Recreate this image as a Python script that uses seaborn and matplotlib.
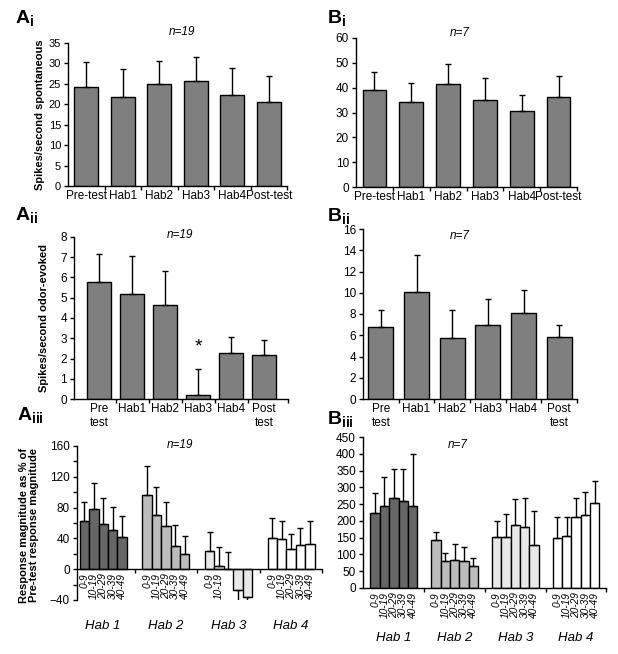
import numpy as np
import pandas as pd
import matplotlib
matplotlib.use("Agg")
import matplotlib.pyplot as plt
import seaborn as sns
from matplotlib import transforms
from matplotlib.ticker import MultipleLocator, FixedLocator

# ---- data ----
phase_labels = ["Pre-test", "Hab1", "Hab2", "Hab3", "Hab4", "Post-test"]
phase_labels2 = ["Pre\ntest", "Hab1", "Hab2", "Hab3", "Hab4", "Post\ntest"]

ai_mean = [24.2, 21.7, 24.9, 25.8, 22.2, 20.5]
ai_sem = [6.1, 6.9, 5.8, 5.8, 6.7, 6.4]

bi_mean = [39.1, 34.2, 41.5, 35.0, 30.6, 36.2]
bi_sem = [7.2, 7.7, 8.0, 8.9, 6.4, 8.5]

aii_mean = [5.77, 5.17, 4.63, 0.21, 2.28, 2.17]
aii_sem = [1.39, 1.89, 1.68, 1.28, 0.76, 0.72]

bii_mean = [6.81, 10.06, 5.78, 6.97, 8.06, 5.84]
bii_sem = [1.59, 3.50, 2.62, 2.47, 2.19, 1.13]

habs = ["Hab 1", "Hab 2", "Hab 3", "Hab 4"]
bins = ["0-9", "10-19", "20-29", "30-39", "40-49"]
aiii_bins = [bins, bins, ["0-9", "10-19", "", "", ""], bins]

aiii_mean = [[63.2, 77.6, 59.0, 51.5, 41.2],
             [96.6, 70.7, 56.4, 30.6, 20.2],
             [24.1, 4.7, 0.0, -27.5, -36.6],
             [40.9, 38.7, 26.7, 31.8, 33.2]]
aiii_sem = [[24.6, 34.9, 33.7, 29.6, 28.0],
            [37.8, 36.0, 31.4, 27.2, 23.0],
            [24.1, 24.5, 22.8, 23.3, 24.4],
            [25.8, 24.1, 18.9, 22.0, 29.1]]

biii_mean = [[225, 243, 267, 258, 243],
             [143, 79, 83, 80, 65],
             [153, 153, 187, 183, 127.5],
             [148, 154, 212, 219, 252]]
biii_sem = [[57, 89, 89, 98, 157],
            [23, 25, 47, 41, 25],
            [47, 69, 78, 84, 103],
            [64, 58, 55, 67, 68]]

hab_colors = ["#666666", "#bcbcbc", "#e8e8e8", "#ffffff"]
GREY = "#7f7f7f"

sns.set_style("ticks")
plt.rcParams["font.family"] = ["Liberation Sans", "DejaVu Sans"]
plt.rcParams.update({
    "mathtext.fontset": "custom",
    "mathtext.rm": "Liberation Sans",
    "mathtext.it": "Liberation Sans:italic",
    "mathtext.bf": "Liberation Sans:bold",
    "axes.edgecolor": "black",
    "axes.linewidth": 1,
    "xtick.color": "black",
    "ytick.color": "black",
    "text.color": "black",
})

W, H = 618, 654
fig = plt.figure(figsize=(W / 100, H / 100), dpi=100)


def box(l, t, r, b):
    return [l / W, 1 - b / H, (r - l) / W, (b - t) / H]


def ftext(x, y, s, **kw):
    fig.text(x / W, 1 - y / H, s, **kw)


def bar_panel(ax, labels, means, sems, ymax, ystep, width, xlim):
    sns.barplot(x=labels, y=means, color=GREY, saturation=1, edgecolor="black",
                linewidth=1, width=width, errorbar=None, ax=ax)
    pos = np.arange(len(labels))
    ax.errorbar(pos, means, yerr=[np.zeros(len(pos)), sems], fmt="none",
                ecolor="black", elinewidth=1, capsize=2.5, capthick=1)
    ax.set_ylim(0, ymax)
    ax.yaxis.set_major_locator(MultipleLocator(ystep))
    ax.set_xlim(*xlim)
    ax.set_xticks(pos, labels)
    ax.xaxis.set_minor_locator(FixedLocator(list(pos[:-1] + 0.5) + [xlim[1]]))
    ax.tick_params(axis="x", which="major", length=0, pad=3, labelsize=8.5)
    ax.tick_params(axis="x", which="minor", length=3, width=1)
    ax.tick_params(axis="y", length=3, width=1, labelsize=8.5, pad=2)
    ax.set_xlabel("")
    ax.set_ylabel("")
    sns.despine(ax=ax)


def group_panel(ax, means, sems, tick_labels, gap, xlim, ylim, ystep, yminor, label_y):
    rows = []
    for g, hab in enumerate(habs):
        for i in range(5):
            rows.append(dict(x=g * gap + i - 2, y=means[g][i], err=sems[g][i],
                             group=hab, lab=tick_labels[g][i]))
    df = pd.DataFrame(rows)
    sns.barplot(data=df, x="x", y="y", hue="group", palette=dict(zip(habs, hab_colors)),
                native_scale=True, dodge=False, width=1, saturation=1,
                edgecolor="black", linewidth=1, errorbar=None, legend=False, ax=ax)
    up = np.where(df["y"] >= 0, df["err"], 0)
    down = np.where(df["y"] < 0, df["err"], 0)
    ax.errorbar(df["x"], df["y"], yerr=[down, up], fmt="none", ecolor="black",
                elinewidth=1, capsize=2.5, capthick=1)
    sns.despine(ax=ax)
    ax.spines["bottom"].set_position(("data", 0))
    ax.set_xlim(*xlim)
    ax.set_ylim(*ylim)
    ax.yaxis.set_major_locator(MultipleLocator(ystep))
    if yminor:
        ax.yaxis.set_minor_locator(MultipleLocator(yminor))
    ax.set_xticks(df["x"], df["lab"], rotation=90, fontstyle="italic")
    ax.xaxis.set_minor_locator(FixedLocator([(g + 0.5) * gap for g in range(3)] + [xlim[1]]))
    ax.tick_params(axis="x", which="major", length=0, pad=3, labelsize=7.3)
    ax.tick_params(axis="x", which="minor", length=3, width=1)
    ax.tick_params(axis="y", which="both", length=3, width=1, labelsize=8.5, pad=2)
    ax.set_xlabel("")
    ax.set_ylabel("")
    trans = transforms.blended_transform_factory(ax.transData, fig.transFigure)
    for g, hab in enumerate(habs):
        ax.text(g * gap, 1 - label_y / H, hab, transform=trans, ha="center",
                va="center", style="italic", fontsize=9.5)


# Ai
ax = fig.add_axes(box(68, 43, 287, 186))
bar_panel(ax, phase_labels, ai_mean, ai_sem, 35, 5, 0.66, (-0.5, 5.5))
ax.tick_params(axis="y", labelsize=8)
ftext(40, 115, "Spikes/second spontaneous", rotation=90, ha="center", va="center",
      fontsize=8, fontweight="bold")
ftext(182, 32, "n=19", ha="center", va="center", style="italic", fontsize=8.5)

# Bi
ax = fig.add_axes(box(356, 38, 577, 187))
bar_panel(ax, phase_labels, bi_mean, bi_sem, 60, 10, 0.64, (-0.5, 5.5))
ftext(460, 33, "n=7", ha="center", va="center", style="italic", fontsize=8.5)

# Aii
ax = fig.add_axes(box(74, 237, 288, 399))
bar_panel(ax, phase_labels2, aii_mean, aii_sem, 8, 1, 0.73, (-0.77, 5.72))
ax.text(3, 2.55, "*", ha="center", va="center", fontsize=14)
ftext(44, 318, "Spikes/second odor-evoked", rotation=90, ha="center", va="center",
      fontsize=8, fontweight="bold")
ftext(180, 235, "n=19", ha="center", va="center", style="italic", fontsize=8.5)

# Bii
ax = fig.add_axes(box(363, 229, 577, 399))
bar_panel(ax, phase_labels2, bii_mean, bii_sem, 16, 2, 0.7, (-0.5, 5.5))
ftext(460, 236, "n=7", ha="center", va="center", style="italic", fontsize=8.5)

# Aiii
ax = fig.add_axes(box(77, 446, 322, 600))
group_panel(ax, aiii_mean, aiii_sem, aiii_bins, 6.7, (-2.8, 23.4), (-40, 160), 40, 20, 626)
ftext(29, 525, "Response magnitude as % of\nPre-test response magnitude", rotation=90,
      ha="center", va="center", fontsize=8, fontweight="bold", linespacing=1.1)
ftext(180, 445, "n=19", ha="center", va="center", style="italic", fontsize=8.5)

# Biii
ax = fig.add_axes(box(363, 437, 606, 588))
group_panel(ax, biii_mean, biii_sem, [bins] * 4, 6.5, (-3.3, 22.7), (0, 450), 50, None, 638)
ftext(458, 445, "n=7", ha="center", va="center", style="italic", fontsize=8.5)

# panel letters
for x, y, s in [(15, 23, r"$\mathbf{A}_{\mathbf{i}}$"), (327, 23, r"$\mathbf{B}_{\mathbf{i}}$"),
                (15, 220, r"$\mathbf{A}_{\mathbf{ii}}$"), (327, 221, r"$\mathbf{B}_{\mathbf{ii}}$"),
                (17, 420, r"$\mathbf{A}_{\mathbf{iii}}$"), (327, 424, r"$\mathbf{B}_{\mathbf{iii}}$")]:
    ftext(x, y, s, ha="left", va="baseline", fontsize=14)

fig.savefig("out.png", dpi=100)
